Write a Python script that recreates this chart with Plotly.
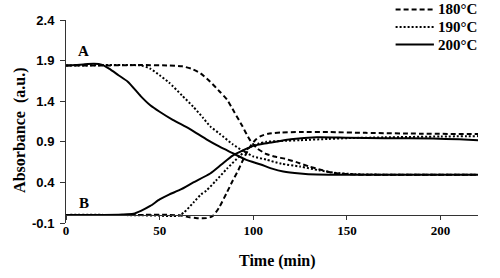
import plotly.graph_objects as go

# ---- data ----
temps = ["180°C", "190°C", "200°C"]

# 180 °C (dashed)
t180_A = [0, 20, 40, 55, 62, 67, 72, 77, 82, 86, 90, 94, 98, 102, 107, 112, 117, 123, 130, 137, 143, 155, 170, 200, 220]
v180_A = [1.84, 1.84, 1.845, 1.84, 1.83, 1.80, 1.74, 1.64, 1.52, 1.42, 1.26, 1.10, 0.93, 0.82, 0.75, 0.715, 0.69, 0.65, 0.595, 0.55, 0.515, 0.497, 0.495, 0.495, 0.495]
t180_B = [0, 20, 40, 55, 62, 66, 70, 75, 78, 80, 82, 86, 89, 92, 95, 98, 101, 104, 108, 115, 125, 140, 160, 190, 220]
v180_B = [0.0, 0.0, 0.0, 0.0, -0.01, -0.03, -0.04, -0.04, -0.02, 0.03, 0.10, 0.28, 0.42, 0.55, 0.70, 0.83, 0.92, 0.97, 1.0, 1.015, 1.02, 1.02, 1.01, 1.0, 0.995]

# 190 °C (dotted)
t190_A = [0, 10, 20, 30, 40, 45, 50, 55, 62, 68, 73, 77, 82, 89, 95, 100, 107, 115, 125, 135, 143, 155, 170, 200, 220]
v190_A = [1.84, 1.84, 1.845, 1.845, 1.84, 1.80, 1.72, 1.63, 1.47, 1.33, 1.20, 1.09, 1.00, 0.87, 0.78, 0.72, 0.68, 0.63, 0.595, 0.55, 0.52, 0.50, 0.495, 0.495, 0.495]
t190_B = [0, 20, 40, 50, 55, 60, 63, 68, 72, 75, 80, 86, 93, 98, 103, 107, 115, 125, 140, 150, 170, 200, 220]
v190_B = [0.0, 0.0, -0.005, -0.01, -0.015, -0.01, 0.03, 0.15, 0.25, 0.30, 0.42, 0.57, 0.73, 0.83, 0.88, 0.90, 0.91, 0.92, 0.935, 0.945, 0.955, 0.965, 0.97]

# 200 °C (solid)
t200_A = [0, 5, 10, 15, 19, 23, 28, 33, 40, 45, 50, 57, 66, 75, 82, 89, 96, 104, 110, 116, 125, 134, 146, 160, 180, 200, 220]
v200_A = [1.84, 1.845, 1.855, 1.86, 1.85, 1.80, 1.72, 1.64, 1.46, 1.35, 1.27, 1.17, 1.06, 0.93, 0.84, 0.76, 0.68, 0.62, 0.57, 0.535, 0.51, 0.497, 0.495, 0.495, 0.495, 0.495, 0.495]
t200_B = [0, 10, 20, 30, 36, 40, 45, 50, 55, 61, 68, 77, 83, 89, 95, 100, 106, 112, 120, 134, 150, 170, 196, 210, 220]
v200_B = [0.0, 0.0, 0.0, 0.005, 0.015, 0.05, 0.11, 0.19, 0.25, 0.31, 0.40, 0.51, 0.62, 0.73, 0.80, 0.85, 0.88, 0.90, 0.93, 0.955, 0.95, 0.945, 0.94, 0.93, 0.92]

x_ticks = [0, 50, 100, 150, 200]
y_ticks = [-0.1, 0.4, 0.9, 1.4, 1.9, 2.4]
curve_labels = ["A", "B"]

SERIF = "Times New Roman, Liberation Serif, serif"
SANS = "Arial, Liberation Sans, sans-serif"

dashes = ["5px,3px", "2px,2px", "solid"]
series = [
    (temps[0], dashes[0], t180_A, v180_A, t180_B, v180_B),
    (temps[1], dashes[1], t190_A, v190_A, t190_B, v190_B),
    (temps[2], dashes[2], t200_A, v200_A, t200_B, v200_B),
]

fig = go.Figure()
for name, dash, tA, vA, tB, vB in series:
    for i, (tt, vv) in enumerate([(tA, vA), (tB, vB)]):
        fig.add_trace(go.Scatter(
            x=tt, y=vv, mode="lines", name=name, showlegend=False,
            line=dict(color="black", width=2, dash=dash, shape="spline", smoothing=0.6),
        ))

# legend (drawn in paper coordinates, above the plot, top right)
leg_y = [1.052, 0.965, 0.879]
for name, dash, yy in zip(temps, dashes, leg_y):
    fig.add_shape(type="line", xref="paper", yref="paper", x0=0.800, x1=0.893, y0=yy, y1=yy,
                  line=dict(color="black", width=2, dash=dash))
    fig.add_annotation(x=0.899, y=yy, xref="paper", yref="paper", text=name, showarrow=False,
                       xanchor="left", yanchor="middle",
                       font=dict(family=SERIF, size=15, color="black", weight="bold"))

fig.add_annotation(x=9.6, y=2.02, xref="x", yref="y", text=curve_labels[0], showarrow=False,
                   xanchor="center", yanchor="middle",
                   font=dict(family=SERIF, size=15, color="black", weight="bold"))
fig.add_annotation(x=9.6, y=0.15, xref="x", yref="y", text=curve_labels[1], showarrow=False,
                   xanchor="center", yanchor="middle",
                   font=dict(family=SERIF, size=15, color="black", weight="bold"))

fig.add_annotation(x=0.5145, y=-0.189, xref="paper", yref="paper", text="Time (min)", showarrow=False,
                   xanchor="center", yanchor="middle",
                   font=dict(family=SERIF, size=16, color="black", weight="bold"))
fig.add_annotation(x=-0.112, y=0.458, xref="paper", yref="paper", text="Absorbance  (a.u.)",
                   textangle=-90, showarrow=False, xanchor="center", yanchor="middle",
                   font=dict(family=SERIF, size=16, color="black", weight="bold"))

fig.update_layout(
    width=500, height=278,
    margin=dict(l=65.5, r=21.5, t=19.7, b=54.7, autoexpand=False),
    paper_bgcolor="white", plot_bgcolor="white",
    showlegend=False,
    xaxis=dict(range=[0, 220], tickvals=x_ticks, ticktext=[str(v) for v in x_ticks],
               showgrid=False, zeroline=False, showline=True, linecolor="#333", linewidth=1,
               ticks="outside", ticklen=4, tickcolor="#333",
               anchor="free", position=0.04,
               tickfont=dict(family=SERIF, size=13, color="black", weight="bold")),
    yaxis=dict(range=[-0.1, 2.4], tickvals=y_ticks, ticktext=[f"{v:.1f}" for v in y_ticks],
               showgrid=False, zeroline=False, showline=True, linecolor="#333", linewidth=1,
               ticks="outside", ticklen=5, tickcolor="#333", ticklabelstandoff=3,
               tickfont=dict(family=SANS, size=13, color="black", weight="bold")),
)

# remove the browser's default 8px page margin so the 500x278 figure fills the window
fig.write_html("out.html", config={"displayModeBar": False},
               post_script="document.body.style.margin='0';")
